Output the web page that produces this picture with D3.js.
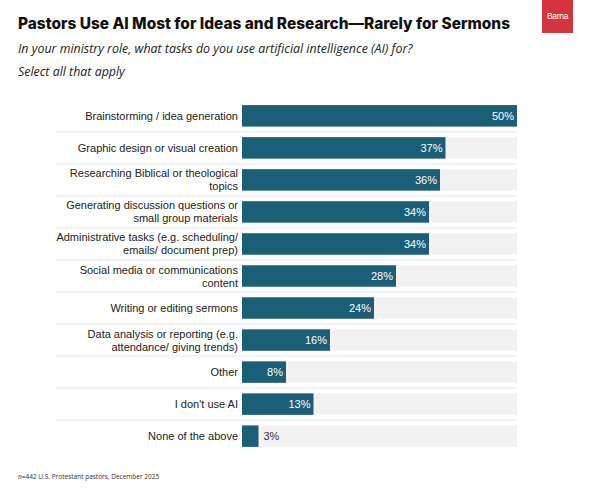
<!DOCTYPE html>
<html>
<head>
<meta charset="utf-8">
<script src="https://cdn.jsdelivr.net/npm/d3@7"></script>
<style>
  body { margin: 0; background: #fff; }
</style>
</head>
<body>
<div id="chart"></div>
<script>
// data
var categories = [
    'Brainstorming / idea generation',
    'Graphic design or visual creation',
    'Researching Biblical or theological|topics',
    'Generating discussion questions or|small group materials',
    'Administrative tasks (e.g. scheduling/|emails/ document prep)',
    'Social media or communications|content',
    'Writing or editing sermons',
    'Data analysis or reporting (e.g.|attendance/ giving trends)',
    'Other',
    "I don't use AI",
    'None of the above'
];
var values = [50, 37, 36, 34, 34, 28, 24, 16, 8, 13, 3];
var maxValue = 50;

var svgWidth = 600;
var svgHeight = 502;

var svg = d3.select('#chart')
    .append('svg')
    .attr('width', svgWidth)
    .attr('height', svgHeight);

// title block
svg.append('text')
    .attr('x', 18)
    .attr('y', 29)
    .attr('font-family', 'Inter, sans-serif')
    .attr('font-weight', 800)
    .attr('font-size', 15.5)
    .attr('textLength', 492)
    .attr('lengthAdjust', 'spacingAndGlyphs')
    .attr('fill', '#111')
    .text('Pastors Use AI Most for Ideas and Research\u2014Rarely for Sermons');

svg.append('text')
    .attr('x', 18)
    .attr('y', 53)
    .attr('font-family', 'Open Sans, sans-serif')
    .attr('font-style', 'italic')
    .attr('font-size', 12.4)
    .attr('fill', '#222')
    .text('In your ministry role, what tasks do you use artificial intelligence (AI) for?');

svg.append('text')
    .attr('x', 18)
    .attr('y', 76)
    .attr('font-family', 'Open Sans, sans-serif')
    .attr('font-style', 'italic')
    .attr('font-size', 12.4)
    .attr('fill', '#222')
    .text('Select all that apply');

// logo
svg.append('rect')
    .attr('x', 542)
    .attr('y', 0)
    .attr('width', 31)
    .attr('height', 33)
    .attr('fill', '#d2353f');
svg.append('text')
    .attr('x', 557.5)
    .attr('y', 19)
    .attr('text-anchor', 'middle')
    .attr('font-family', 'Liberation Sans, Arial, sans-serif')
    .attr('font-size', 8.5)
    .attr('letter-spacing', -0.3)
    .attr('fill', '#fff')
    .text('Barna');

// scales
var barLeft = 242;
var barRight = 517;

var x = d3.scaleLinear()
    .domain([0, maxValue])
    .range([barLeft, barRight]);

var y = d3.scaleBand()
    .domain(categories)
    .range([100, 452])
    .paddingInner(0.33)
    .paddingOuter(0.16);

var chartGroup = svg.append('g');

// separators between rows
var step = y.step();
chartGroup.selectAll('line.sep')
    .data(categories.slice(1))
    .enter()
    .append('line')
    .attr('class', 'sep')
    .attr('x1', 56)
    .attr('x2', barRight)
    .attr('y1', d => y(d) - (step - y.bandwidth()) / 2)
    .attr('y2', d => y(d) - (step - y.bandwidth()) / 2)
    .attr('stroke', '#e8e8e8')
    .attr('stroke-width', 1);

// background tracks
chartGroup.selectAll('rect.track')
    .data(categories)
    .enter()
    .append('rect')
    .attr('class', 'track')
    .attr('x', x(0))
    .attr('y', d => y(d))
    .attr('width', x(maxValue) - x(0))
    .attr('height', y.bandwidth())
    .attr('fill', '#f2f2f2');

// bars
chartGroup.selectAll('rect.bar')
    .data(values)
    .enter()
    .append('rect')
    .attr('class', 'bar')
    .attr('x', x(0))
    .attr('y', (d, i) => y(categories[i]))
    .attr('width', d => x(d) - x(0))
    .attr('height', y.bandwidth())
    .attr('fill', '#1a5e78');

// value labels
chartGroup.selectAll('text.val')
    .data(values)
    .enter()
    .append('text')
    .attr('class', 'val')
    .attr('x', d => d < 5 ? x(d) + 5 : x(d) - 3)
    .attr('y', (d, i) => y(categories[i]) + y.bandwidth() / 2 + 4)
    .attr('text-anchor', d => d < 5 ? 'start' : 'end')
    .attr('font-family', 'Liberation Sans, Arial, sans-serif')
    .attr('font-size', 11)
    .attr('fill', d => d < 5 ? '#333' : '#fff')
    .text(d => d + '%');

// category labels
var labels = chartGroup.selectAll('text.cat')
    .data(categories)
    .enter()
    .append('text')
    .attr('class', 'cat')
    .attr('x', barLeft - 4)
    .attr('y', d => y(d) + y.bandwidth() / 2)
    .attr('text-anchor', 'end')
    .attr('font-family', 'Liberation Sans, Arial, sans-serif')
    .attr('font-size', 11)
    .attr('fill', '#222');

labels.each(function(d) {
    var lines = d.split('|');
    var t = d3.select(this);
    var start = lines.length === 1 ? 4 : -2.5;
    lines.forEach(function(line, i) {
        t.append('tspan')
            .attr('x', barLeft - 4)
            .attr('y', +t.attr('y') + start + i * 13)
            .text(line);
    });
});

// footer
svg.append('text')
    .attr('x', 18)
    .attr('y', 479)
    .attr('font-family', 'Open Sans, sans-serif')
    .attr('font-size', 6.5)
    .attr('fill', '#333')
    .html('<tspan font-style="italic">n</tspan>=442 U.S. Protestant pastors, December 2025');
</script>
</body>
</html>
